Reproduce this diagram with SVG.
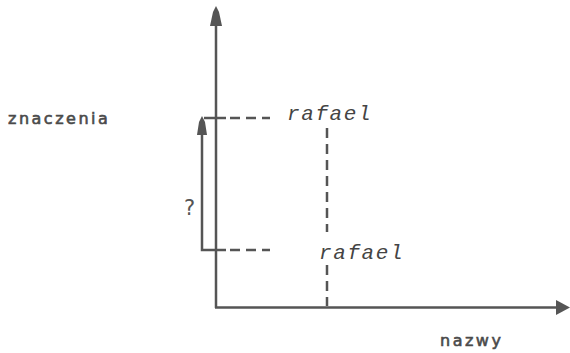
<svg xmlns="http://www.w3.org/2000/svg" width="570" height="353" viewBox="0 0 570 353">
<style>
.ax{stroke:#555;stroke-width:2.5;fill:none}
.dash{stroke:#555;stroke-width:2.5;fill:none;stroke-dasharray:10 6}
.head{fill:#555}
.lbl{font-family:"DejaVu Sans",sans-serif;font-size:16px;fill:#4a4a4a;stroke:#4a4a4a;stroke-width:0.6;letter-spacing:2.5px}
.name{font-family:"Liberation Mono",monospace;font-style:italic;font-size:21px;fill:#444;letter-spacing:1.6px}
.q{font-family:"DejaVu Sans",sans-serif;font-size:21px;fill:#555}
</style>
<rect width="570" height="353" fill="#fff"/>
<g id="connectors">
  <line class="ax" x1="216" y1="308" x2="216" y2="22"/>
  <polygon class="head" points="216,6 219,12 222,26 210,26 213,12"/>
  <line class="ax" x1="215" y1="307.5" x2="558" y2="307.5"/>
  <polygon class="head" points="570,307.5 556,300 556,315"/>
  <polyline class="ax" points="202,132 202,250 226,250"/>
  <polygon class="head" points="202,116 205,122 207,135 197,135 199,122"/>
  <line class="ax" x1="204" y1="118" x2="226" y2="118"/>
  <line class="dash" x1="230" y1="118" x2="270" y2="118"/>
  <line class="dash" x1="230" y1="250" x2="270" y2="250"/>
  <line class="dash" x1="327" y1="128" x2="327" y2="232" stroke-dasharray="12 12"/>
  <line class="dash" x1="327" y1="265" x2="327" y2="306" stroke-dasharray="12 8"/>
</g>
<g id="axis-y-label"><text class="lbl" x="8" y="124">znaczenia</text></g>
<g id="axis-x-label"><text class="lbl" x="440" y="346">nazwy</text></g>
<g id="rafael-top"><text class="name" x="287" y="120">rafael</text></g>
<g id="rafael-bottom"><text class="name" x="319" y="259">rafael</text></g>
<g id="question"><text class="q" x="184" y="215">?</text></g>
</svg>
